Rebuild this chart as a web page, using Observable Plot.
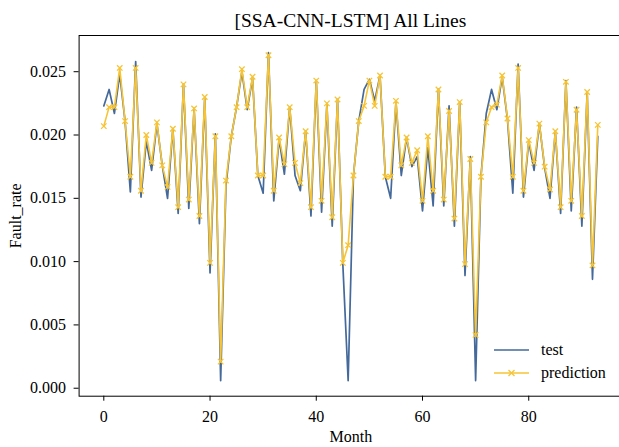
<!DOCTYPE html>
<html>
<head>
<meta charset="utf-8">
<script src="https://cdn.jsdelivr.net/npm/d3@7"></script>
<script src="https://cdn.jsdelivr.net/npm/@observablehq/plot@0.6"></script>
<style>
  html, body { margin: 0; padding: 0; background: #fff; overflow: hidden; }
  #wrap { position: relative; width: 625px; height: 447px; overflow: hidden; font-family: "Liberation Serif", "DejaVu Serif", serif; color: #000; }
  #wrap svg text { font-family: "Liberation Serif", "DejaVu Serif", serif; }
  #title { position: absolute; left: 78.6px; width: 543.5px; top: 11px; line-height: 20px; text-align: center; font-size: 19.5px; white-space: nowrap; }
  #chart { position: absolute; left: 0; top: 35px; }
  #legend { position: absolute; left: 493px; top: 338px; font-size: 16px; }
  #legend .row { display: flex; align-items: center; height: 23.5px; }
  #legend svg { margin-right: 11px; }
</style>
</head>
<body>
<div id="wrap">
  <div id="title">[SSA-CNN-LSTM] All Lines</div>
  <div id="chart"></div>
  <div id="legend"></div>
</div>
<script>
// Monthly fault rate: observed test values and model predictions
const test = [
  0.0223, 0.0236, 0.0217, 0.0248, 0.0211, 0.0155, 0.0258, 0.0151, 0.0195, 0.0172,
  0.0209, 0.0176, 0.0150, 0.0205, 0.0138, 0.0240, 0.0142, 0.0221, 0.0130, 0.0229,
  0.0091, 0.0201, 0.0006, 0.0160, 0.0199, 0.0222, 0.0250, 0.0220, 0.0245, 0.0168,
  0.0154, 0.0265, 0.0148, 0.0197, 0.0169, 0.0222, 0.0168, 0.0156, 0.0203, 0.0136,
  0.0243, 0.0139, 0.0224, 0.0128, 0.0228, 0.0098, 0.0006, 0.0168, 0.0211, 0.0236,
  0.0244, 0.0227, 0.0247, 0.0167, 0.0150, 0.0226, 0.0168, 0.0198, 0.0175, 0.0183,
  0.0140, 0.0190, 0.0144, 0.0236, 0.0144, 0.0223, 0.0128, 0.0226, 0.0089, 0.0183,
  0.0006, 0.0167, 0.0217, 0.0236, 0.0220, 0.0246, 0.0212, 0.0154, 0.0256, 0.0151,
  0.0195, 0.0172, 0.0209, 0.0174, 0.0150, 0.0203, 0.0138, 0.0243, 0.0140, 0.0222,
  0.0128, 0.0234, 0.0086, 0.0199
];
const prediction = [
  0.0207, 0.0222, 0.0222, 0.0253, 0.0211, 0.0167, 0.0253, 0.0156, 0.0200, 0.0178,
  0.0210, 0.0176, 0.0159, 0.0205, 0.0143, 0.0240, 0.0149, 0.0221, 0.0136, 0.0230,
  0.0099, 0.0199, 0.0021, 0.0164, 0.0199, 0.0222, 0.0252, 0.0222, 0.0246, 0.0168,
  0.0168, 0.0263, 0.0156, 0.0198, 0.0177, 0.0222, 0.0178, 0.0162, 0.0203, 0.0143,
  0.0243, 0.0148, 0.0225, 0.0135, 0.0228, 0.0099, 0.0113, 0.0168, 0.0211, 0.0223,
  0.0243, 0.0223, 0.0247, 0.0167, 0.0167, 0.0227, 0.0176, 0.0198, 0.0178, 0.0188,
  0.0148, 0.0199, 0.0156, 0.0236, 0.0149, 0.0219, 0.0134, 0.0226, 0.0098, 0.0181,
  0.0042, 0.0167, 0.0210, 0.0222, 0.0224, 0.0247, 0.0213, 0.0167, 0.0253, 0.0156,
  0.0196, 0.0178, 0.0209, 0.0175, 0.0157, 0.0203, 0.0143, 0.0242, 0.0148, 0.0220,
  0.0136, 0.0234, 0.0097, 0.0208
];
const xTicks = [0, 20, 40, 60, 80];
const yTicks = [0.000, 0.005, 0.010, 0.015, 0.020, 0.025];
const seriesNames = ["test", "prediction"];
const seriesColors = ["#44699a", "#f7c435"];

const months = test.map((_, i) => i);
const testRows = months.map(i => ({month: i, value: test[i]}));
const predRows = months.map(i => ({month: i, value: prediction[i]}));

const chart = Plot.plot({
  width: 625,
  height: 412,
  marginLeft: 78.6,
  marginRight: 3,
  marginTop: 0,
  marginBottom: 51.3,
  style: {fontFamily: "'Liberation Serif', 'DejaVu Serif', serif", fontSize: "16px", color: "#000", background: "#fff"},
  x: {domain: [-4.65, 97.65]},
  y: {domain: [-0.00063, 0.02786]},
  marks: [
    Plot.frame({stroke: "#000", strokeWidth: 1}),
    Plot.axisX({ticks: xTicks, tickSize: 5, tickPadding: 9, tickFormat: d3.format("d"), label: "Month", labelAnchor: "center", labelArrow: "none", labelOffset: 46, fontSize: 16}),
    Plot.axisY({ticks: yTicks, tickSize: 5, tickPadding: 8, tickFormat: d3.format(".3f"), label: "Fault_rate", labelAnchor: "center", labelArrow: "none", labelOffset: 69, fontSize: 16}),
    Plot.line(testRows, {x: "month", y: "value", stroke: seriesColors[0], strokeWidth: 1.7}),
    Plot.line(predRows, {x: "month", y: "value", stroke: seriesColors[1], strokeWidth: 1.6}),
    Plot.dot(predRows, {x: "month", y: "value", symbol: "times", r: 2.6, stroke: seriesColors[1], strokeWidth: 1.3})
  ]
});
document.getElementById("chart").appendChild(chart);

// Legend: line swatches with a marker on the prediction entry
const legend = d3.select("#legend");
seriesNames.forEach((name, k) => {
  const row = legend.append("div").attr("class", "row");
  const sw = row.append("svg").attr("width", 37).attr("height", 12);
  sw.append("line").attr("x1", 1).attr("x2", 36).attr("y1", 6).attr("y2", 6)
    .attr("stroke", seriesColors[k]).attr("stroke-width", 1.6);
  if (name === "prediction") {
    sw.append("path").attr("d", "M15.5,3L21.5,9M21.5,3L15.5,9")
      .attr("stroke", seriesColors[k]).attr("stroke-width", 1.3);
  }
  row.append("span").text(name);
});
</script>
</body>
</html>
